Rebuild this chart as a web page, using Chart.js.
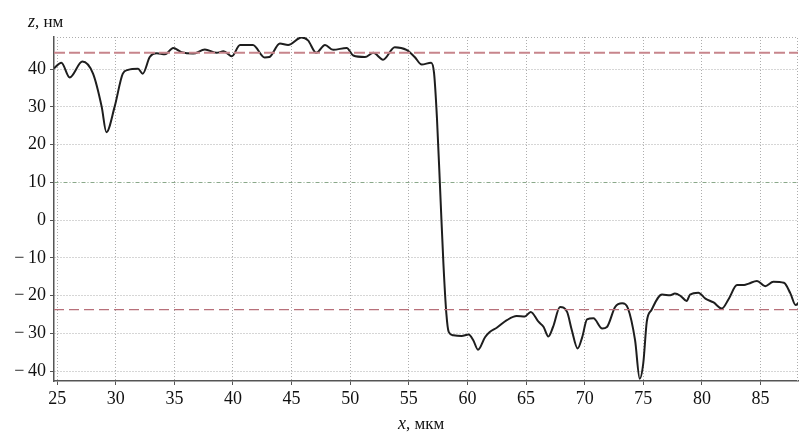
<!DOCTYPE html>
<html>
<head>
<meta charset="utf-8">
<script src="https://cdn.jsdelivr.net/npm/chart.js@4.4.0/dist/chart.umd.min.js"></script>
<style>
html,body{margin:0;padding:0;background:#fff}
</style>
</head>
<body>
<canvas id="profileChart" width="812" height="432"></canvas>
<script>
// profile x (мкм) and z (нм)
const xs = [24.73,25.36,26.07,27.15,28.06,28.8,29.2,29.9,30.6,31.05,31.9,32.3,32.9,33.5,34.2,34.9,35.6,36.6,37.6,38.6,39.2,39.9,40.6,41.7,42.7,43.1,44.0,44.7,45.85,46.4,47.1,47.85,48.55,49.7,50.26,51.26,51.97,52.8,53.8,54.8,55.5,56.1,56.9,57.15,57.4,57.7,57.95,58.2,58.4,58.8,59.5,60.1,60.5,60.9,61.5,61.9,62.5,63.36,64.2,64.9,65.4,66.06,66.5,66.9,67.3,67.9,68.5,68.9,69.4,69.8,70.2,70.75,71.5,71.9,72.6,73.2,73.7,74.3,74.7,75.0,75.3,75.7,76.6,77.3,77.7,78.2,78.7,79.0,79.7,80.3,81.0,81.7,82.3,83.0,83.6,84.0,84.7,85.4,86.1,87.0,87.55,88.0,88.25];
const zs = [40.2,41.7,37.8,42.0,38.8,30,23.3,30,38.8,39.8,40.1,38.8,43.2,44.2,43.9,45.6,44.5,44.1,45.2,44.3,44.7,43.4,46.4,46.4,43.1,43.2,46.8,46.4,48.4,47.6,44.3,46.4,45.1,45.6,43.6,43.2,44.3,42.5,45.8,45.1,43.2,41.2,41.7,39,27,6,-11.5,-24.7,-29.6,-30.5,-30.7,-30.3,-31.8,-34.3,-31,-29.6,-28.5,-26.5,-25.4,-25.5,-24.3,-26.9,-28.3,-30.8,-28.3,-23,-24.3,-29.1,-34,-30.9,-26.3,-26,-28.7,-28.3,-23,-22,-23.4,-31.8,-42,-37.9,-26.9,-23.8,-19.7,-19.9,-19.4,-20.1,-21.4,-19.7,-19.2,-20.8,-21.8,-23.4,-20.8,-17.2,-17.2,-16.8,-16.1,-17.5,-16.3,-16.6,-19.4,-22.5,-21.9];
const upperLevel = 44.3;
const lowerLevel = -23.7;
const xRange = [24.73, 88.2];
const yRange = [-42.6, 48.5];
const xTicks = [25,30,35,40,45,50,55,60,65,70,75,80,85];
const yTicks = [-40,-30,-20,-10,0,10,20,30,40];

const serif = "'Liberation Serif', 'DejaVu Serif', serif";
let profile = [];
for (let i = 0; i < xs.length; i++) {
    profile.push({x: xs[i], y: zs[i]});
}

const extras = {
    id: 'extras',
    beforeDatasetsDraw(chart) {
        const {ctx, chartArea: a} = chart;
        ctx.save();
        ctx.strokeStyle = '#adadad';
        ctx.lineWidth = 1;
        ctx.setLineDash([1, 2]);
        ctx.beginPath();
        ctx.moveTo(a.left, a.top + 0.5);
        ctx.lineTo(a.right - 0.5, a.top + 0.5);
        ctx.lineTo(a.right - 0.5, a.bottom);
        ctx.stroke();
        ctx.restore();
    },
    afterDraw(chart) {
        const ctx = chart.ctx;
        ctx.save();
        ctx.fillStyle = '#111';
        ctx.textBaseline = 'alphabetic';
        ctx.font = 'italic 18px ' + serif;
        ctx.fillText('z', 28, 27);
        let w = ctx.measureText('z').width;
        ctx.font = '17px ' + serif;
        ctx.fillText(', нм', 28 + w, 27);

        ctx.font = 'italic 18px ' + serif;
        ctx.fillText('x', 398, 429);
        w = ctx.measureText('x').width;
        ctx.font = '17px ' + serif;
        ctx.fillText(', мкм', 398 + w, 429);
        ctx.restore();
    }
};

let config = {
    type: 'scatter',
    data: {
        datasets: [
            {
                data: [{x: xRange[0], y: upperLevel}, {x: xRange[1], y: upperLevel}],
                showLine: true,
                borderColor: '#c7858c',
                borderWidth: 2,
                borderDash: [11, 4],
                pointRadius: 0
            },
            {
                data: [{x: xRange[0], y: lowerLevel}, {x: xRange[1], y: lowerLevel}],
                showLine: true,
                borderColor: '#b8707a',
                borderWidth: 1.2,
                borderDash: [10, 5],
                pointRadius: 0
            },
            {
                data: profile,
                showLine: true,
                borderColor: '#1e1e1e',
                borderWidth: 2,
                pointRadius: 0,
                cubicInterpolationMode: 'monotone'
            }
        ]
    },
    options: {
        responsive: false,
        animation: false,
        layout: {padding: {left: 0, top: 37, right: 14, bottom: 0}},
        plugins: {legend: {display: false}, tooltip: {enabled: false}},
        scales: {
            x: {
                type: 'linear',
                min: xRange[0],
                max: xRange[1],
                afterBuildTicks: s => { s.ticks = xTicks.map(v => ({value: v})); },
                afterFit: s => { s.height = 51; },
                grid: {color: '#adadad', tickColor: '#555', tickLength: 4, tickBorderDash: []},
                border: {color: '#555', width: 1.5, dash: [1, 2]},
                ticks: {color: '#111', font: {family: serif, size: 18}, padding: 3, maxRotation: 0, autoSkip: false}
            },
            y: {
                min: yRange[0],
                max: yRange[1],
                afterBuildTicks: s => { s.ticks = yTicks.map(v => ({value: v})); },
                afterFit: s => { s.width = 54; },
                grid: {
                    color: c => (c.tick && c.tick.value === 10) ? '#8aa88a' : '#adadad',
                    tickColor: '#555', tickLength: 4, tickBorderDash: []
                },
                border: {
                    color: '#555', width: 1.5,
                    dash: c => (c.tick && c.tick.value === 10) ? [4, 2, 1, 2] : [1, 2]
                },
                ticks: {
                    color: '#111', font: {family: serif, size: 18}, padding: 4, autoSkip: false,
                    callback: v => v < 0 ? '\u2212\u2009' + Math.abs(v) : String(v)
                }
            }
        }
    },
    plugins: [extras]
};

let profileChart = new Chart(document.getElementById('profileChart'), config);
</script>
</body>
</html>
